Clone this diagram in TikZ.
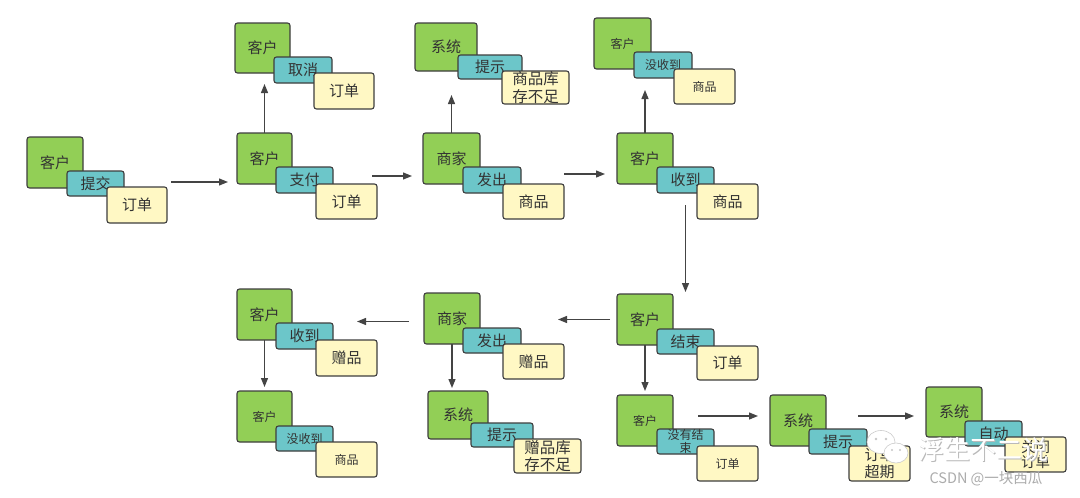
\documentclass[tikz,border=0pt]{standalone}
\usepackage{fontspec}
\setmainfont{Noto Sans CJK SC}
\usetikzlibrary{arrows.meta,calc}
\definecolor{cg}{RGB}{146,207,86}
\definecolor{ct}{RGB}{108,198,201}
\definecolor{cy}{RGB}{255,248,196}
\definecolor{cb}{RGB}{62,62,62}
\definecolor{ctx}{RGB}{51,51,51}
\definecolor{cl}{RGB}{68,68,68}
\begin{document}
\begin{tikzpicture}[x=1pt,y=-1pt,
  bx/.style={draw=cb,line width=1.1pt,rounded corners=2.5pt,anchor=north west,inner sep=0pt,outer sep=0pt,text=ctx,align=center,font=\fontsize{15}{17}\selectfont},
  gb/.style={bx,fill=cg},
  tb/.style={bx,fill=ct},
  yb/.style={bx,fill=cy},
  sz/.style 2 args={minimum width=#1pt,minimum height=#2pt},
  sm/.style={font=\fontsize{12}{14}\selectfont},
  arr/.style={draw=cl,line width=1.2pt,-{Triangle[length=9pt,width=7pt]}}]
\fill[white] (0,0) rectangle (1080,498);
\useasboundingbox (0,0) rectangle (1080,498);
% A
\node[gb,sz={56}{51}] (Ag) at (27,137) {客户};
\node[tb,sz={57}{25}] (At) at (67,171) {提交};
\node[yb,sz={60}{36}] (Ay) at (107,187) {订单};
% B
\node[gb,sz={55}{51}] (Bg) at (237,133) {客户};
\node[tb,sz={57}{26}] (Bt) at (276,167) {支付};
\node[yb,sz={61}{35}] (By) at (316,184) {订单};
% C
\node[gb,sz={55}{50}] (Cg) at (235,23) {客户};
\node[tb,sz={58}{26}] (Ct) at (274,57) {取消};
\node[yb,sz={60}{36}] (Cy) at (314,73) {订单};
% D
\node[gb,sz={57}{51}] (Dg) at (423,133) {商家};
\node[tb,sz={58}{26}] (Dt) at (463,167) {发出};
\node[yb,sz={61}{35}] (Dy) at (503,184) {商品};
% E
\node[gb,sz={62}{48}] (Eg) at (415,23) {系统};
\node[tb,sz={64}{24}] (Et) at (458,55) {提示};
\node[yb,sz={67}{33},font=\fontsize{15.5}{17.5}\selectfont] (Ey) at (502,71) {商品库\\存不足};
% F
\node[gb,sz={56}{51}] (Fg) at (617,133) {客户};
\node[tb,sz={57}{26}] (Ft) at (657,167) {收到};
\node[yb,sz={61}{35}] (Fy) at (697,184) {商品};
% G
\node[gb,sz={57}{51},sm] (Gg) at (594,18) {客户};
\node[tb,sz={58}{26},sm] (Gt) at (634,52) {没收到};
\node[yb,sz={61}{35},sm] (Gy) at (674,69) {商品};
% H
\node[gb,sz={56}{51}] (Hg) at (617,294) {客户};
\node[tb,sz={57}{25}] (Ht) at (657,329) {结束};
\node[yb,sz={61}{34}] (Hy) at (697,346) {订单};
% I
\node[gb,sz={56}{51}] (Ig) at (424,293) {商家};
\node[tb,sz={58}{25}] (It) at (463,328) {发出};
\node[yb,sz={61}{35}] (Iy) at (503,344) {赠品};
% J
\node[gb,sz={55}{51}] (Jg) at (237,289) {客户};
\node[tb,sz={57}{26}] (Jt) at (276,323) {收到};
\node[yb,sz={61}{36}] (Jy) at (316,340) {赠品};
% K
\node[gb,sz={55}{51},sm] (Kg) at (237,391) {客户};
\node[tb,sz={57}{25},sm] (Kt) at (276,426) {没收到};
\node[yb,sz={61}{35},sm] (Ky) at (316,442) {商品};
% L
\node[gb,sz={60}{48}] (Lg) at (428,391) {系统};
\node[tb,sz={62}{24}] (Lt) at (471,423) {提示};
\node[yb,sz={67}{34},font=\fontsize{15.5}{17.5}\selectfont] (Ly) at (514,439) {赠品库\\存不足};
% M
\node[gb,sz={56}{51},sm] (Mg) at (617,395) {客户};
\node[tb,sz={57}{25},font=\fontsize{12}{13.5}\selectfont] (Mt) at (657,429) {没有结\\束};
\node[yb,sz={61}{35},sm] (My) at (697,446) {订单};
% N
\node[gb,sz={56}{51}] (Ng) at (770,395) {系统};
\node[tb,sz={58}{25}] (Nt) at (809,429) {提示};
\node[yb,sz={61}{35},font=\fontsize{15}{16.5}\selectfont] (Ny) at (849,446) {订单\\超期};
% O
\node[gb,sz={56}{50}] (Og) at (926,387) {系统};
\node[tb,sz={57}{25}] (Ot) at (965,421) {自动};
\node[yb,sz={61}{35},font=\fontsize{14.5}{15.5}\selectfont] (Oy) at (1005,437) {关闭\\订单};
% arrows (horizontal ones share one y, vertical ones one x)
\draw[arr] ($(Ay.north east)+(4,-5)$) -- ($(Bg.west |- Ay.north east)+(-9,-5)$);
\draw[arr] (Bg.north) -- ($(Bg.north |- Cg.south)+(0,11)$);
\draw[arr] ($(By.north east)+(-5,-8)$) -- ($(Dg.west |- By.north east)+(-11,-8)$);
\draw[arr] (Dg.north) -- ($(Dg.north |- Et.south)+(0,16)$);
\draw[arr] ($(Dy.north east)+(0,-10)$) -- ($(Fg.west |- Dy.north east)+(-12,-10)$);
\draw[arr] (Fg.north) -- ($(Fg.north |- Gt.south)+(0,12)$);
\draw[arr] ($(Ft.south)+(0,12)$) -- ($(Ft.south |- Hg.north)+(0,-2)$);
\draw[arr] ($(Hg.west)+(-7,0)$) -- ($(Hg.west -| Iy.east)+(-6,0)$);
\draw[arr] ($(Ig.west)+(-15,3)$) -- ($(Ig.west -| Jy.east)+(-20,3)$);
\draw[arr] (Jg.south) -- ($(Kg.north)+(0,-4)$);
\draw[arr] (Ig.south) -- ($(Ig.south |- Lg.north)+(0,-3)$);
\draw[arr] (Hg.south) -- ($(Hg.south |- Mg.north)+(0,-4)$);
\draw[arr] ($(Mg.east)+(25,-4.5)$) -- ($(Ng.west)+(-12,-4.5)$);
\draw[arr] ($(Ng.east)+(32,-4.5)$) -- ($(Og.west |- Ng.east)+(-12,-4.5)$);
% watermark
\draw[gray!40,fill=white,line width=0.6pt] (881,442) ellipse [x radius=14, y radius=11.5];
\draw[gray!40,fill=white,line width=0.6pt] (896,453) ellipse [x radius=12, y radius=10];
\fill[gray!45] (876,439) circle (1.3) (886,439) circle (1.3) (892,450) circle (1.1) (900,450) circle (1.1);
\node[text=gray!55,font=\fontsize{26}{28}\selectfont,anchor=west] (wm1s) at (915.7,450.7) {浮生不二说};
\node[text=white,font=\fontsize{26}{28}\selectfont,anchor=west] (wm1) at (915,450) {浮生不二说};
\node[text=gray!65,font=\fontsize{14.5}{16}\selectfont,anchor=west] (wm2) at (926,479) {CSDN @一块西瓜};
\end{tikzpicture}
\end{document}
